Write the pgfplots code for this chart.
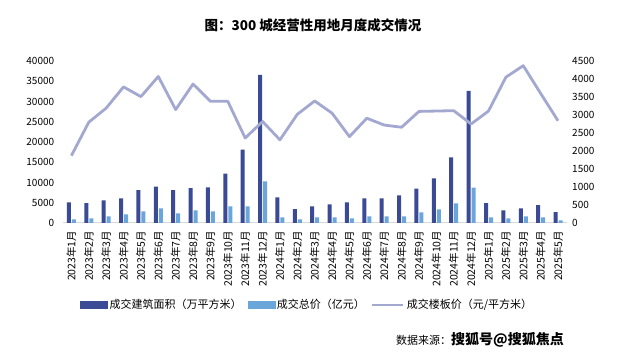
\documentclass[border=0pt]{standalone}
\usepackage{fontspec}
\setmainfont{Noto Sans CJK SC}
\usepackage{pgfplots}
\usepackage{pgfplotstable}
\pgfplotsset{compat=1.18}
\definecolor{darkbar}{HTML}{3B4A94}
\definecolor{lightbar}{HTML}{6AA6DA}
\definecolor{linec}{HTML}{A2A8CF}
\definecolor{axgray}{HTML}{D9D9D9}

\pgfplotstableread{
idx area total price
0 5100 900 1870
1 4900 1150 2800
2 5600 1650 3190
3 6100 2150 3780
4 8100 2900 3510
5 9000 3600 4070
6 8100 2400 3150
7 8600 3100 3860
8 8800 2900 3380
9 12200 4100 3380
10 18100 4100 2360
11 36600 10250 2820
12 6300 1400 2310
13 3400 900 3020
14 4100 1400 3390
15 4600 1400 3050
16 5100 1150 2400
17 6100 1650 2910
18 6100 1650 2720
19 6800 1650 2660
20 8500 2600 3100
21 11000 3350 3110
22 16200 4850 3120
23 32600 8750 2750
24 4900 1400 3110
25 3100 1150 4050
26 3600 1650 4370
27 4400 1400 3600
28 2700 650 2840
}\data

\begin{document}
\begin{tikzpicture}[x=1pt,y=1pt]
\path[use as bounding box] (0,0) rectangle (628,358);
\pgfplotsset{
  common/.style={
    at={(62.7pt,135pt)}, anchor=south west,
    scale only axis, width=504pt, height=162pt,
    xmin=-0.5, xmax=28.5,
    scaled y ticks=false,
    /pgf/number format/assume math mode=true,
    /pgf/number format/1000 sep={},
    tick label style={font=\fontsize{10}{12}\selectfont, text=black},
  }
}
\begin{axis}[common,
  ymin=0, ymax=40000, ytick={0,5000,...,40000},
  axis y line*=left, y axis line style={draw=none},
  ytick style={draw=none},
  yticklabel style={anchor=east, xshift=-5pt},
  axis x line*=bottom, x axis line style={axgray, line width=1pt},
  xtick={0,...,28}, xtick style={draw=none},
  xticklabels={2023年1月,2023年2月,2023年3月,2023年4月,2023年5月,2023年6月,2023年7月,2023年8月,2023年9月,2023年10月,2023年11月,2023年12月,2024年1月,2024年2月,2024年3月,2024年4月,2024年5月,2024年6月,2024年7月,2024年8月,2024年9月,2024年10月,2024年11月,2024年12月,2025年1月,2025年2月,2025年3月,2025年4月,2025年5月},
  xticklabel style={rotate=90, anchor=east, font=\fontsize{10.5}{12}\selectfont, yshift=0pt},
  extra x ticks={-0.5,0.5,...,28.5}, extra x tick labels={},
  extra x tick style={tick style={draw=axgray, line width=1pt}, major tick length=5pt, tick align=outside},
  ybar=1pt, bar width=4pt,
]
\addplot[fill=darkbar, draw=none] table[x=idx, y=area] {\data};
\addplot[fill=lightbar, draw=none] table[x=idx, y=total] {\data};
\end{axis}
\begin{axis}[common,
  ymin=0, ymax=4500, ytick={0,500,...,4500},
  axis y line*=right, y axis line style={draw=none},
  ytick style={draw=none},
  yticklabel style={anchor=west, xshift=2pt},
  axis x line=none,
  legend columns=3,
  legend style={at={(0.485,-0.506)}, anchor=center, draw=none, fill=none,
    font=\fontsize{11}{13}\selectfont, inner sep=0pt,
    /tikz/every even column/.append style={column sep=4pt}},
]
\addlegendimage{legend image code/.code={\fill[darkbar] (0pt,-3.5pt) rectangle (27pt,3.5pt);}}
\addlegendentry{成交建筑面积（万平方米）}
\addlegendimage{legend image code/.code={\fill[lightbar] (0pt,-3.5pt) rectangle (27pt,3.5pt);}}
\addlegendentry{成交总价（亿元）}
\addlegendimage{legend image code/.code={\draw[linec, line width=2.8pt] (0pt,0pt) -- (31pt,0pt);}}
\addlegendentry{成交楼板价（元/平方米）}
\addplot[linec, line width=2.8pt, line join=round, mark=none] table[x=idx, y=price] {\data};
\end{axis}
\node[font=\bfseries\fontsize{13.5}{16}\selectfont] at (313,333) {图：300 城经营性用地月度成交情况};
\node[anchor=west, inner sep=0pt] at (396,18) {\fontsize{11}{13}\selectfont 数据来源：\fontsize{14}{16}\selectfont\bfseries 搜狐号@搜狐焦点};
\end{tikzpicture}
\end{document}
